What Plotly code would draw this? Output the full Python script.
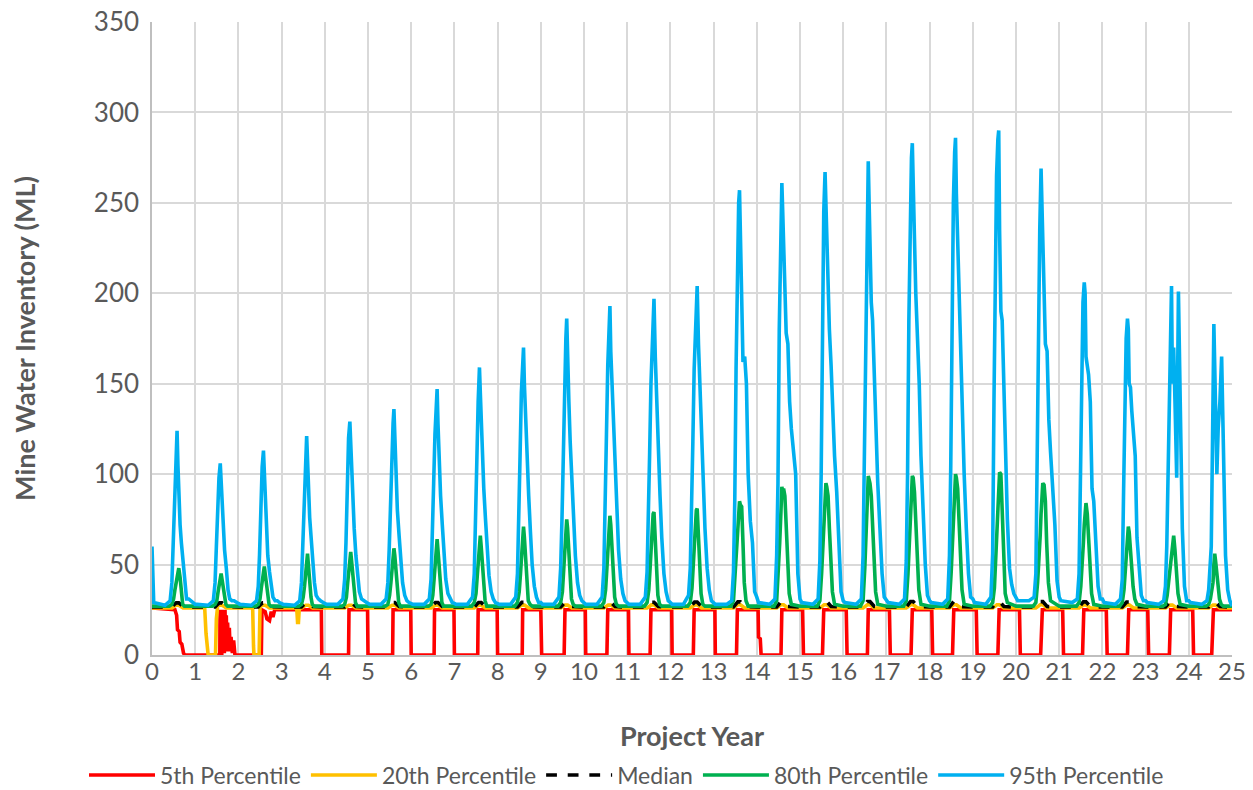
import plotly.graph_objects as go

# ---------------------------------------------------------------
# Mine water inventory (ML) percentiles over a 25-year project.
# Each wet-season pulse is tabulated per project year at a set of
# fractional-year offsets (one row per year).
# ---------------------------------------------------------------
YEARS = list(range(25))
END_YEAR = 25

# 95th percentile
OFF_95 = [0.00, 0.04, 0.30, 0.42, 0.46, 0.49, 0.52, 0.55, 0.58, 0.60,
          0.62, 0.65, 0.68, 0.72, 0.76, 0.80, 0.85, 0.90, 0.95]
P95 = [
    [60, 29, 27.5, 30, 40, 62, 90, 110, 124, 105, 90, 72, 62, 52, 38, 31, 31, 30, 29],
    [28, 28, 27.5, 30, 40, 60, 82, 98, 106, 96, 85, 68, 58, 48, 36, 31, 30, 30, 29],
    [28.5, 28, 27.5, 30, 38, 56, 85, 104, 113, 100, 88, 68, 55, 46, 38, 32, 30, 30, 29],
    [28.5, 28, 27.5, 30, 40, 60, 90, 110, 121, 108, 92, 76, 66, 52, 40, 33, 31, 30, 29],
    [28.5, 28, 28, 31, 42, 62, 95, 120, 129, 115, 100, 80, 70, 55, 44, 35, 31, 30, 29],
    [28.5, 28, 28, 31, 40, 58, 88, 112, 128, 136, 118, 98, 80, 66, 50, 40, 33, 30, 29],
    [28.5, 28, 28, 31, 42, 62, 95, 122, 140, 147, 128, 105, 88, 72, 55, 42, 34, 31, 29],
    [28.5, 28, 28, 32, 45, 70, 108, 140, 159, 145, 128, 108, 92, 75, 58, 44, 35, 31, 29],
    [28.5, 28, 28, 32, 45, 70, 110, 145, 162, 170, 150, 128, 110, 88, 68, 50, 38, 32, 29],
    [29, 28, 28, 32, 48, 75, 118, 155, 175, 186, 160, 140, 118, 95, 72, 55, 40, 33, 30],
    [29, 28, 28, 32, 48, 78, 122, 160, 182, 193, 168, 148, 125, 100, 78, 58, 42, 34, 30],
    [29, 28, 28, 32, 46, 72, 112, 150, 175, 188, 197, 165, 140, 115, 88, 65, 45, 35, 30],
    [29, 28, 28, 33, 48, 76, 118, 158, 182, 195, 204, 172, 150, 125, 95, 70, 48, 36, 30],
    [29, 28, 28, 30, 46, 85, 158, 213, 250, 257, 235, 185, 162, 165, 150, 100, 74, 62, 35],
    [32, 29, 28, 31, 55, 95, 180, 235, 261, 245, 228, 190, 178, 172, 140, 125, 112, 100, 45],
    [31, 29, 28, 31, 52, 100, 190, 245, 267, 250, 225, 200, 180, 160, 130, 110, 90, 60, 35],
    [30, 29, 28, 31, 55, 110, 200, 255, 273, 250, 215, 195, 185, 150, 120, 95, 70, 45, 32],
    [30, 29, 28, 31, 52, 100, 185, 245, 275, 283, 250, 230, 200, 175, 150, 110, 80, 50, 33],
    [30, 29, 28, 31, 55, 105, 190, 250, 278, 286, 255, 228, 205, 170, 140, 100, 70, 45, 32],
    [31, 29, 28, 32, 56, 140, 215, 265, 285, 290, 235, 190, 185, 145, 102, 75, 48, 39, 34],
    [32, 30, 30, 32, 45, 125, 165, 235, 269, 250, 231, 204, 172, 168, 130, 112, 93, 72, 41],
    [32, 30, 29, 31, 45, 95, 160, 195, 206, 200, 165, 160, 155, 140, 92, 85, 60, 38, 31],
    [31, 29, 28, 31, 42, 90, 140, 175, 186, 180, 150, 148, 135, 125, 110, 65, 45, 33, 30],
    [30, 29, 28, 30, 38, 60, 99, 131, 158, 204, 150, 170, 140, 98, 201, 150, 70, 38, 30],
    [30, 29, 28, 30, 36, 45, 60, 120, 183, 160, 140, 100, 125, 140, 165, 102, 55, 36, 30],
]
P95_END = 27

# 80th percentile
OFF_80 = [0.00, 0.40, 0.46, 0.50, 0.53, 0.56, 0.58, 0.60, 0.62, 0.65,
          0.68, 0.71, 0.75, 0.80]
P80 = [
    [27, 27, 28, 31, 36, 40, 44, 47, 48, 43, 34, 28, 27, 27],
    [27, 27, 28, 30, 35, 40, 44, 45, 42, 36, 30, 28, 27, 27],
    [27, 27, 28, 31, 37, 42, 46, 49, 45, 38, 31, 28, 27, 27],
    [27, 27, 28, 32, 38, 45, 52, 56, 50, 40, 32, 28, 27, 27],
    [27, 27, 28, 32, 40, 48, 54, 57, 52, 42, 33, 29, 27, 27],
    [27, 27, 28, 33, 40, 48, 55, 59, 55, 44, 34, 29, 27, 27],
    [27, 27, 28, 33, 42, 52, 60, 64, 58, 46, 35, 29, 27, 27],
    [27, 27, 29, 34, 44, 55, 62, 66, 60, 48, 36, 30, 27, 27],
    [27, 27, 29, 35, 45, 57, 66, 71, 65, 52, 38, 30, 28, 27],
    [27, 27, 29, 35, 47, 60, 70, 75, 70, 55, 40, 31, 28, 27],
    [27, 27, 29, 36, 48, 62, 72, 77, 72, 58, 42, 32, 28, 27],
    [27, 27, 29, 36, 48, 62, 72, 78, 79, 62, 45, 33, 28, 27],
    [27, 27, 29, 37, 50, 64, 75, 80, 81, 65, 46, 34, 28, 27],
    [27, 27, 30, 46, 55, 65, 75, 85, 83, 82, 62, 40, 30, 27],
    [27, 27, 30, 46, 62, 80, 93, 90, 92, 88, 74, 52, 34, 28],
    [27, 27, 30, 45, 62, 80, 92, 95, 93, 88, 70, 50, 35, 28],
    [27, 27, 30, 48, 65, 85, 99, 97, 95, 88, 72, 50, 35, 28],
    [27, 27, 30, 45, 62, 82, 92, 99, 98, 90, 74, 52, 36, 28],
    [27, 27, 30, 46, 64, 84, 94, 100, 98, 92, 75, 52, 36, 28],
    [27, 27, 29, 37, 55, 70, 84, 95, 101, 100, 76, 50, 34, 29],
    [27, 27, 29, 40, 50, 66, 78, 88, 95, 94, 85, 62, 40, 30],
    [27, 27, 29, 38, 48, 62, 72, 80, 84, 78, 62, 45, 34, 28],
    [27, 27, 29, 36, 45, 56, 64, 71, 68, 60, 48, 38, 31, 28],
    [27, 27, 28, 33, 40, 46, 50, 53, 60, 66, 58, 45, 34, 28],
    [27, 27, 28, 31, 35, 40, 50, 56, 52, 45, 38, 31, 28, 27],
]
P80_END = 27

# Median
OFF_MED = [0.00, 0.46, 0.52, 0.56, 0.62, 0.67, 0.72]
MED = [
    [26.5, 26.5, 28.0, 28.8, 28.8, 27.8, 26.8],
    [26.5, 26.5, 28.0, 28.8, 28.8, 27.8, 26.8],
    [26.5, 26.5, 28.0, 28.8, 28.8, 27.8, 26.8],
    [26.5, 26.5, 28.0, 28.9, 28.9, 27.8, 26.8],
    [26.5, 26.5, 28.0, 28.9, 28.9, 27.8, 26.8],
    [26.5, 26.5, 28.0, 29.0, 29.0, 27.9, 26.8],
    [26.5, 26.5, 28.0, 29.0, 29.0, 27.9, 26.8],
    [26.5, 26.5, 28.1, 29.0, 29.0, 27.9, 26.8],
    [26.5, 26.5, 28.1, 29.1, 29.1, 28.0, 26.8],
    [26.5, 26.5, 28.1, 29.1, 29.1, 28.0, 26.8],
    [26.5, 26.5, 28.2, 29.2, 29.2, 28.0, 26.8],
    [26.5, 26.5, 28.2, 29.2, 29.2, 28.0, 26.8],
    [26.5, 26.5, 28.2, 29.3, 29.3, 28.1, 26.8],
    [26.5, 26.5, 28.3, 29.4, 29.4, 28.1, 26.8],
    [26.5, 26.5, 28.3, 29.5, 29.5, 28.2, 26.8],
    [26.5, 26.5, 28.4, 29.6, 29.6, 28.2, 26.8],
    [26.5, 26.5, 28.4, 29.6, 29.6, 28.2, 26.8],
    [26.5, 26.5, 28.4, 29.6, 29.6, 28.2, 26.8],
    [26.5, 26.5, 28.4, 29.6, 29.6, 28.2, 26.8],
    [26.5, 26.5, 28.4, 29.6, 29.6, 28.2, 26.8],
    [26.5, 26.5, 28.4, 29.5, 29.5, 28.2, 26.8],
    [26.5, 26.5, 28.3, 29.4, 29.4, 28.1, 26.8],
    [26.5, 26.5, 28.2, 29.3, 29.3, 28.1, 26.8],
    [26.5, 26.5, 28.2, 29.2, 29.2, 28.0, 26.8],
    [26.5, 26.5, 28.1, 29.1, 29.1, 28.0, 26.8],
]
MED_END = 26.5

# 20th percentile
OFF_20 = [0.00, 0.30, 0.46, 0.52, 0.56, 0.62, 0.67, 0.72]
P20 = [
    [26, 26, 26, 27, 27.5, 27.5, 26.8, 26],
    [26, 0, 0, 27, 27.5, 27.5, 26.8, 26],
    [26, 26, 0, 27, 27.5, 27.5, 26.8, 26],
    [26, 26, 26, 27, 27.5, 27.5, 26.8, 26],
    [26, 26, 26, 27, 27.5, 27.5, 26.8, 26],
    [26, 26, 26, 27, 27.5, 27.5, 26.8, 26],
    [26, 26, 26, 27, 27.5, 27.5, 26.8, 26],
    [26, 26, 26, 27, 27.5, 27.5, 26.8, 26],
    [26, 26, 26, 27, 27.6, 27.6, 26.8, 26],
    [26, 26, 26, 27, 27.6, 27.6, 26.8, 26],
    [26, 26, 26, 27, 27.6, 27.6, 26.8, 26],
    [26, 26, 26, 27, 27.7, 27.7, 26.8, 26],
    [26, 26, 26, 27, 27.7, 27.7, 26.8, 26],
    [26, 26, 26, 27, 27.8, 27.8, 26.9, 26],
    [26, 26, 26, 27, 27.8, 27.8, 26.9, 26],
    [26, 26, 26, 27, 27.8, 27.8, 26.9, 26],
    [26, 26, 26, 27, 27.8, 27.8, 26.9, 26],
    [26, 26, 26, 27, 27.8, 27.8, 26.9, 26],
    [26, 26, 26, 27, 27.8, 27.8, 26.9, 26],
    [26, 26, 26, 27, 27.8, 27.8, 26.9, 26],
    [26, 26, 26, 27, 27.8, 27.8, 26.9, 26],
    [26, 26, 26, 27, 27.7, 27.7, 26.8, 26],
    [26, 26, 26, 27, 27.7, 27.7, 26.8, 26],
    [26, 26, 26, 27, 27.6, 27.6, 26.8, 26],
    [26, 26, 26, 27, 27.6, 27.6, 26.8, 26],
]
P20_END = 26
# Early dry-season drawdowns of the 20th percentile (time, ML)
P20_DIP_T = [1.22, 1.25, 1.28, 1.47, 1.49, 1.51,
             2.33, 2.35, 2.36, 2.48, 2.50,
             3.35, 3.37, 3.39, 3.41]
P20_DIP_V = [26, 12, 0, 0, 20, 26,
             26, 5, 0, 0, 26,
             26, 18, 18, 26]

# 5th percentile (time, ML)
P05_T = [0.00, 0.53, 0.57, 0.59, 0.63, 0.65, 0.69, 0.73, 0.76,
         1.57, 1.575, 1.59, 1.60, 1.615, 1.63, 1.645, 1.66, 1.675, 1.69,
         1.705, 1.72, 1.735, 1.75, 1.77, 1.79, 1.81, 1.83, 1.86, 1.89, 1.92,
         2.53, 2.545, 2.62, 2.66, 2.72, 2.76, 2.80, 2.84, 3.92, 3.93,
         4.55, 4.56, 4.99, 5.00,
         5.57, 5.58, 5.99, 6.00,
         6.53, 6.54, 6.99, 7.00,
         7.54, 7.55, 7.99, 8.00,
         8.57, 8.58, 9.00, 9.02,
         9.54, 9.56, 10.03, 10.04,
         10.53, 10.55, 11.03, 11.04,
         11.53, 11.55, 12.03, 12.04,
         12.53, 12.55, 13.03, 13.04,
         13.53, 13.55, 14.03, 14.04, 14.08, 14.10,
         14.56, 14.58, 15.06, 15.08,
         15.52, 15.55, 16.07, 16.09,
         16.56, 16.58, 17.07, 17.09,
         17.57, 17.60, 18.05, 18.07,
         18.53, 18.56, 19.08, 19.10,
         19.58, 19.61, 20.08, 20.10,
         20.57, 20.61, 21.08, 21.10,
         21.54, 21.57, 22.09, 22.11,
         22.58, 22.61, 23.05, 23.07,
         23.55, 23.58, 24.09, 24.11,
         24.53, 24.57, 25.00]
P05_V = [26, 25, 22, 14, 13, 7, 6, 1, 0,
         0, 25, 2, 25, 0, 25, 3, 24, 1, 25,
         5, 22, 2, 18, 4, 15, 2, 10, 1, 8, 0,
         0, 25, 24, 20, 19, 24, 21, 25, 25, 0,
         0, 25, 25, 0,
         0, 25, 25, 0,
         0, 25, 25, 0,
         0, 25, 25, 0,
         0, 25, 25, 0,
         0, 25, 25, 0,
         0, 25, 25, 0,
         0, 25, 25, 0,
         0, 25, 25, 0,
         0, 25, 25, 10, 9, 0,
         0, 25, 25, 0,
         0, 25, 25, 0,
         0, 25, 25, 0,
         0, 25, 25, 0,
         0, 25, 25, 0,
         0, 25, 25, 0,
         0, 25, 25, 0,
         0, 25, 25, 0,
         0, 25, 25, 0,
         0, 25, 25, 0,
         0, 25, 25]

X_TICKS = list(range(0, 26))
Y_TICKS = [0, 50, 100, 150, 200, 250, 300, 350]


def unroll(offsets, rows, end_value):
    """Lay the per-year rows out on a continuous project-year axis."""
    xs, ys = [], []
    for yr, row in zip(YEARS, rows):
        for off, val in zip(offsets, row):
            xs.append(yr + off)
            ys.append(val)
    xs.append(END_YEAR)
    ys.append(end_value)
    return xs, ys


x95, y95 = unroll(OFF_95, P95, P95_END)
x80, y80 = unroll(OFF_80, P80, P80_END)
xmd, ymd = unroll(OFF_MED, MED, MED_END)
x20, y20 = unroll(OFF_20, P20, P20_END)
pts20 = sorted(zip(x20 + P20_DIP_T, y20 + P20_DIP_V), key=lambda p: p[0])
x20 = [p[0] for p in pts20]
y20 = [p[1] for p in pts20]

FONT = "Lato, Calibri, Carlito, sans-serif"
GREY = "#595959"
LW = 3.6

fig = go.Figure()
fig.add_trace(go.Scatter(x=P05_T, y=P05_V, mode="lines", name="5th Percentile",
                         line=dict(color="#ff0000", width=LW)))
fig.add_trace(go.Scatter(x=x20, y=y20, mode="lines", name="20th Percentile",
                         line=dict(color="#ffc000", width=LW)))
fig.add_trace(go.Scatter(x=xmd, y=ymd, mode="lines", name="Median",
                         line=dict(color="#000000", width=LW, dash="dash")))
fig.add_trace(go.Scatter(x=x80, y=y80, mode="lines", name="80th Percentile",
                         line=dict(color="#00b050", width=LW)))
fig.add_trace(go.Scatter(x=x95, y=y95, mode="lines", name="95th Percentile",
                         line=dict(color="#00b0f0", width=LW)))

fig.update_layout(
    width=1253, height=790,
    margin=dict(l=152, r=21, t=22, b=135, autoexpand=False),
    paper_bgcolor="white", plot_bgcolor="white",
    font=dict(family=FONT, color=GREY, size=25),
    showlegend=True,
    legend=dict(orientation="h", xref="container", yref="container",
                x=0.5, xanchor="center", y=0.019, yanchor="middle",
                font=dict(family=FONT, size=23, color=GREY),
                itemwidth=66, tracegroupgap=0),
)
fig.update_xaxes(
    range=[0, 25], tickmode="array", tickvals=X_TICKS,
    ticktext=[str(v) for v in X_TICKS],
    showgrid=True, gridcolor="#d9d9d9", gridwidth=1.5,
    showline=True, linecolor="#bfbfbf", linewidth=1.5,
    ticks="", tickfont=dict(size=24, color=GREY), zeroline=False,
    ticklabelstandoff=-6,
    title=dict(text="<b>Project Year</b>", font=dict(size=27, color=GREY), standoff=44),
)
fig.update_yaxes(
    range=[0, 350], tickmode="array", tickvals=Y_TICKS,
    showgrid=True, gridcolor="#d9d9d9", gridwidth=1.5,
    showline=True, linecolor="#bfbfbf", linewidth=1.5,
    ticks="", tickfont=dict(size=26, color=GREY), zeroline=False,
    ticklabelstandoff=6,
    title=dict(text="<b>Mine Water Inventory (ML)</b>", font=dict(size=27, color=GREY), standoff=50),
)

fig.write_html("out.html")
